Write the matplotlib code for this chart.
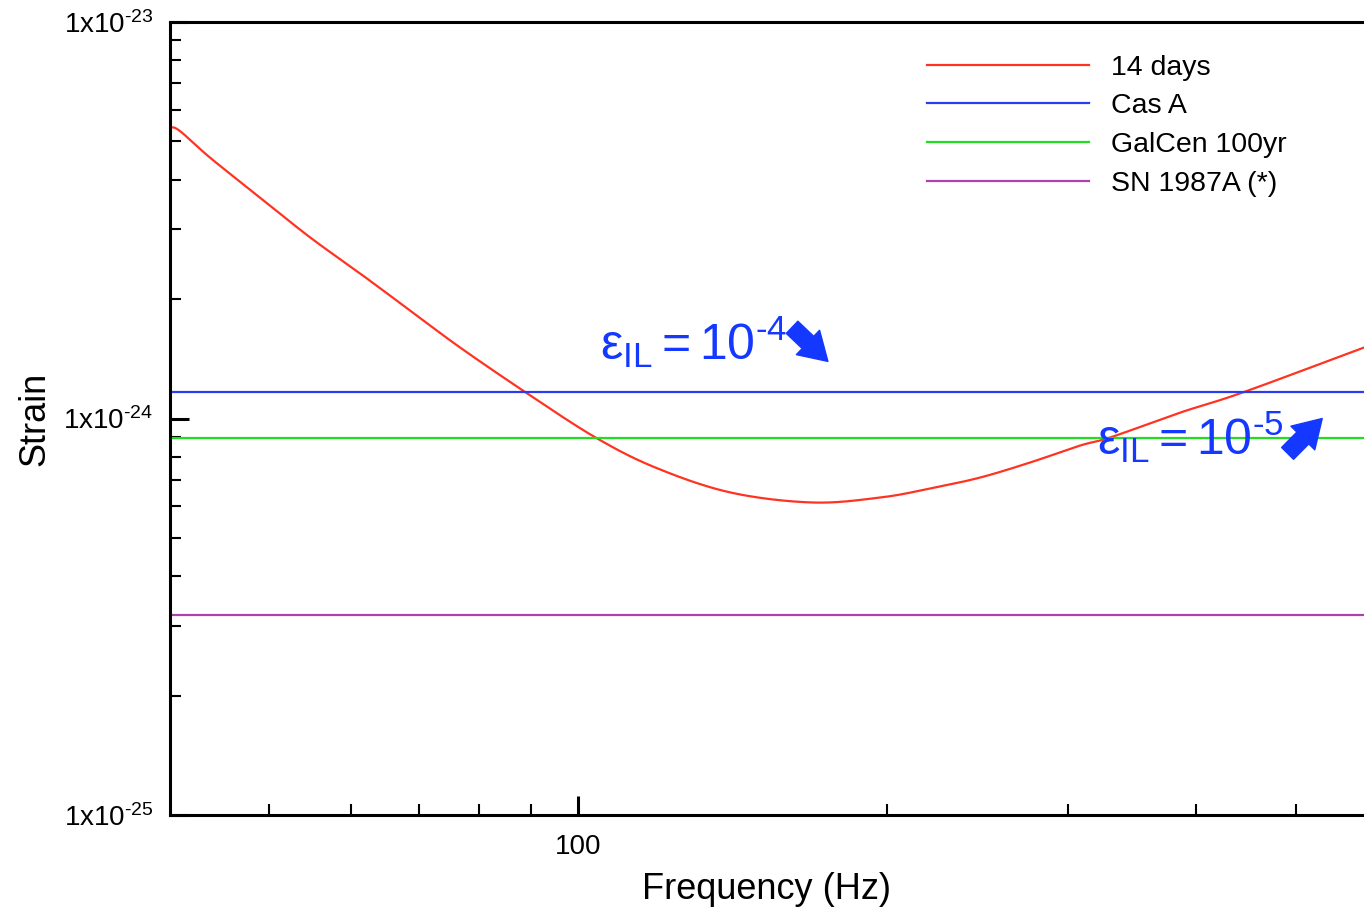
import numpy as np
import matplotlib
matplotlib.use('Agg')
from matplotlib import pyplot as plt
from matplotlib.ticker import LogLocator, NullFormatter, FixedLocator

plt.rcParams['font.family'] = ['Liberation Sans', 'DejaVu Sans']
plt.rcParams['mathtext.fontset'] = 'custom'
plt.rcParams['mathtext.rm'] = 'Liberation Sans'
plt.rcParams['mathtext.it'] = 'Liberation Sans'

# 14 day sensitivity curve
freq = [40.0, 40.9, 43.8, 49.0, 54.8, 61.3, 68.6, 76.7, 89.2, 103.9,
        118.9, 140.6, 169.0, 196.9, 220.3, 246.5, 275.8, 308.5, 330.0,
        386.0, 444.0, 583.0]
strain = [5.44e-24, 5.31e-24, 4.54e-24, 3.60e-24, 2.86e-24, 2.32e-24,
          1.87e-24, 1.51e-24, 1.156e-24, 8.96e-25, 7.52e-25, 6.51e-25,
          6.14e-25, 6.32e-25, 6.66e-25, 7.10e-25, 7.75e-25, 8.55e-25,
          8.96e-25, 1.035e-24, 1.163e-24, 1.51e-24]

# flat upper limits
targets = ['Cas A', 'GalCen 100yr', 'SN 1987A (*)']
target_strain = [1.163e-24, 8.95e-25, 3.19e-25]
target_colors = ['#2b3cf0', '#22dd22', '#b040b0']


def catmull_rom(x, y, n=30):
    # smooth path through the read points (done in log-log space)
    px = np.concatenate([[2 * x[0] - x[1]], x, [2 * x[-1] - x[-2]]])
    py = np.concatenate([[2 * y[0] - y[1]], y, [2 * y[-1] - y[-2]]])
    xs, ys = [], []
    t = np.linspace(0, 1, n, endpoint=False)
    for i in range(1, len(px) - 2):
        for p, out in ((px, xs), (py, ys)):
            p0, p1, p2, p3 = p[i - 1], p[i], p[i + 1], p[i + 2]
            out.append(0.5 * (2 * p1 + (-p0 + p2) * t
                              + (2 * p0 - 5 * p1 + 4 * p2 - p3) * t ** 2
                              + (-p0 + 3 * p1 - 3 * p2 + p3) * t ** 3))
    xs.append([x[-1]])
    ys.append([y[-1]])
    return np.concatenate(xs), np.concatenate(ys)


fig = plt.figure(figsize=(13.64, 9.08), dpi=100)
ax = fig.add_axes([170 / 1364, 93 / 908, 1194 / 1364, 793 / 908])

sx, sy = catmull_rom(np.log10(freq), np.log10(strain))
ax.plot(10 ** sx, 10 ** sy, color='#ff3322', lw=1.6, label='14 days')
for name, s, c in zip(targets, target_strain, target_colors):
    ax.axhline(s, color=c, lw=1.6, label=name)

ax.set_xscale('log')
ax.set_yscale('log')
ax.set_xlim(40, 583)
ax.set_ylim(1e-25, 1e-23)

ax.xaxis.set_major_locator(FixedLocator([100]))
ax.xaxis.set_minor_locator(FixedLocator([50, 60, 70, 80, 90, 200, 300, 400, 500]))
ax.xaxis.set_minor_formatter(NullFormatter())
ax.set_xticklabels(['100'])

hy = '\u2010'  # plain hyphen, as in the original labels
ax.yaxis.set_major_locator(FixedLocator([1e-25, 1e-24, 1e-23]))
ax.yaxis.set_minor_locator(LogLocator(base=10, subs=np.arange(2, 10)))
ax.yaxis.set_minor_formatter(NullFormatter())
ax.set_yticklabels([r'$\mathregular{1x10^{%s25}}$' % hy,
                    r'$\mathregular{1x10^{%s24}}$' % hy,
                    r'$\mathregular{1x10^{%s23}}$' % hy])

ax.tick_params(which='major', direction='in', length=14, width=2.2, labelsize=20, pad=12)
ax.tick_params(which='minor', direction='in', length=8, width=1.5)
ax.tick_params(axis='x', which='major', pad=14)

for side in ['left', 'bottom', 'top']:
    ax.spines[side].set_linewidth(2.2)
ax.spines['right'].set_visible(False)

ax.set_xlabel('Frequency (Hz)', fontsize=26, labelpad=8)
ax.set_ylabel('Strain', fontsize=26, labelpad=8)

ax.legend(loc='upper left', bbox_to_anchor=(0.634, 0.959), frameon=False,
          fontsize=20.5, handlelength=5.7, handletextpad=0.75, labelspacing=0.45,
          borderpad=0, borderaxespad=0)

blue = '#1438ff'
arrow = 'simple,head_width=1.1,head_length=0.9,tail_width=0.55'
ax.text(0.360, 0.574, r'$\mathregular{ε_{IL} = 10^{%s4}}$' % hy, transform=ax.transAxes,
        color=blue, fontsize=36, va='baseline', ha='left')
ax.annotate('', xy=(0.551, 0.572), xytext=(0.521, 0.615), xycoords='axes fraction',
            arrowprops=dict(arrowstyle=arrow, color=blue, mutation_scale=22,
                            shrinkA=0, shrinkB=0))
ax.text(0.776, 0.454, r'$\mathregular{ε_{IL} = 10^{%s5}}$' % hy, transform=ax.transAxes,
        color=blue, fontsize=36, va='baseline', ha='left')
ax.annotate('', xy=(0.965, 0.500), xytext=(0.936, 0.456), xycoords='axes fraction',
            arrowprops=dict(arrowstyle=arrow, color=blue, mutation_scale=22,
                            shrinkA=0, shrinkB=0))

fig.savefig('out.png', dpi=100)
